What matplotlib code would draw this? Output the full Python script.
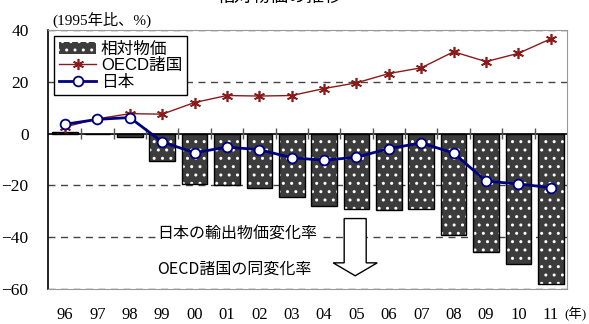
import matplotlib.pyplot as plt
from matplotlib.patches import FancyArrow

# 年 (1996-2011)
years = ['96', '97', '98', '99', '00', '01', '02', '03', '04', '05',
         '06', '07', '08', '09', '10', '11']

# 相対物価 (bar)
relative = [0.6, -0.3, -1.5, -10.7, -19.4, -19.8, -20.9, -24.3, -27.8, -29.1,
            -29.5, -29.1, -39.0, -45.9, -50.4, -57.9]

# OECD諸国
oecd = [2.6, 5.7, 7.7, 7.5, 12.0, 14.7, 14.5, 14.7, 17.4, 19.6,
        23.2, 25.4, 31.6, 27.8, 31.0, 36.6]

# 日本
japan = [3.6, 5.5, 6.2, -3.2, -7.4, -5.2, -6.2, -9.3, -10.3, -9.1,
         -5.8, -3.6, -7.5, -18.4, -19.4, -20.9]

jp = ['Noto Sans CJK JP', 'DejaVu Sans']
serif_jp = ['Liberation Serif', 'Noto Sans CJK JP']
sans_jp = ['Liberation Sans', 'Noto Sans CJK JP']

fig = plt.figure(figsize=(5.89, 3.24), dpi=100)
ax = fig.add_axes([48 / 589, 1 - 289 / 324, 519 / 589, 259 / 324])

x = list(range(len(years)))

# 棒グラフ (白い点のハッチ + 黒い枠)
bars = ax.bar(x, relative, width=0.79, color='#3c3c3c', edgecolor='white',
              linewidth=0, hatch='..', zorder=2, label='相対物価')
ax.bar(x, relative, width=0.79, fill=False, edgecolor='black',
       linewidth=1, zorder=2.1)

l_oecd, = ax.plot(x, oecd, color='#8b1a1a', lw=1, marker=(6, 2, 0), ms=8,
                  mew=1.2, zorder=4, label='OECD諸国')
l_jp, = ax.plot(x, japan, color='#000080', lw=2, marker='o', ms=7,
                mfc='white', mec='#000080', mew=1.3, zorder=5, label='日本')

# 補助線
for v in [40, 20, -20, -40, -60]:
    ax.axhline(v, color='#444444', lw=1, ls=(0, (5, 4)), zorder=1)
ax.axhline(0, color='black', lw=1.2, zorder=3)
for b in range(len(years) - 1):
    ax.vlines(b + 0.5, -2, 2, color='#555555', lw=1, zorder=3)

ax.set_xlim(-0.525, 15.5)
ax.set_ylim(-60, 40)
ax.set_yticks([40, 20, 0, -20, -40, -60])
ax.set_xticks(x)
ax.set_xticklabels(years)
ax.tick_params(axis='both', length=0)
ax.tick_params(axis='y', pad=14)
ax.tick_params(axis='x', pad=13)
for lab in ax.get_yticklabels():
    lab.set_fontfamily('Liberation Serif')
    lab.set_fontsize(12.5)
for lab in ax.get_xticklabels():
    lab.set_fontfamily('Liberation Serif')
    lab.set_fontsize(12)

ax.spines['left'].set_color('black')
ax.spines['left'].set_linewidth(1.2)
for s in ['top', 'right', 'bottom']:
    ax.spines[s].set_color('#999999')

leg = ax.legend([bars, l_oecd, l_jp], ['相対物価', 'OECD諸国', '日本'],
                loc='upper left', bbox_to_anchor=(0.012, 0.975),
                prop={'family': sans_jp, 'size': 12}, frameon=True,
                fancybox=False, edgecolor='black', framealpha=1,
                borderpad=0.3, labelspacing=0.1, handlelength=2.2,
                handletextpad=0.3, borderaxespad=0)
leg.get_frame().set_linewidth(1)
leg.set_zorder(6)

# 注釈
ax.text(2.85, -38.3, '日本の輸出物価変化率', family=jp, fontsize=11.5,
        va='center', ha='left', zorder=6,
        bbox=dict(facecolor='white', edgecolor='none', pad=1))
ax.text(2.85, -52.3, 'OECD諸国の同変化率', family=jp, fontsize=11.5,
        va='center', ha='left', zorder=6,
        bbox=dict(facecolor='white', edgecolor='none', pad=1))
ax.add_patch(FancyArrow(8.96, -32.8, 0, -22.1, width=0.68, head_width=1.36,
                        head_length=5, length_includes_head=True,
                        facecolor='white', edgecolor='black', lw=1, zorder=6))

fig.text(52 / 589, 1 - 20 / 324, '(1995年比、%)', family=serif_jp,
         fontsize=11, va='center', ha='left')
fig.text(587 / 589, 1 - 314 / 324, '(年)', family=serif_jp,
         fontsize=9.5, va='center', ha='right')
fig.text(0.475, 1 - 6 / 324, '相対物価の推移', family=jp, fontsize=13,
         va='bottom', ha='center')

fig.savefig('out.png', dpi=100)
